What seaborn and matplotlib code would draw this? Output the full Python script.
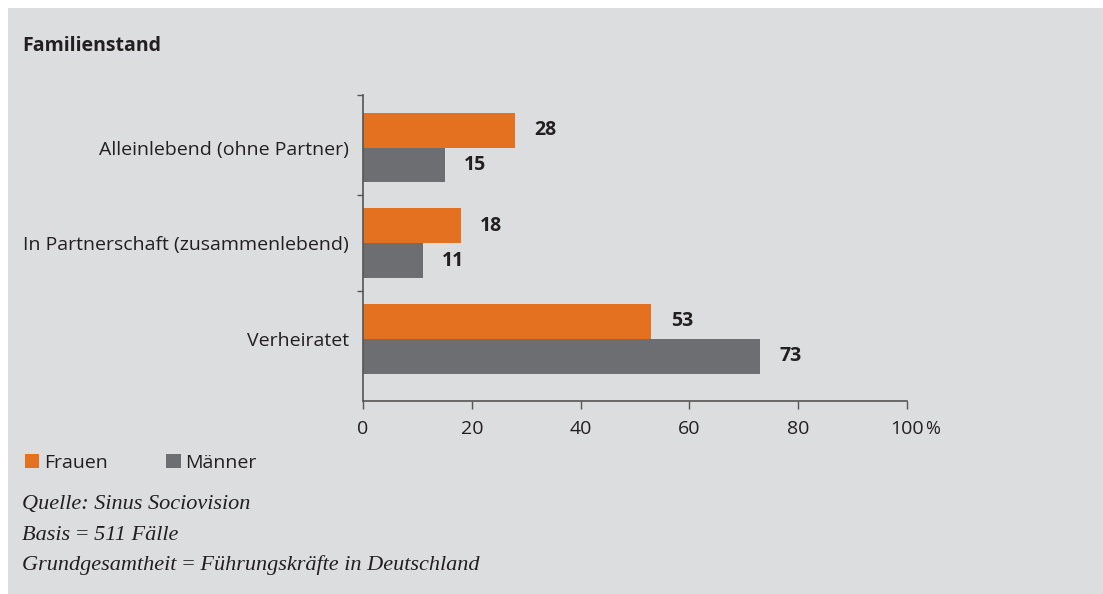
import matplotlib
matplotlib.use("Agg")
import matplotlib.pyplot as plt
import seaborn as sns
import pandas as pd

# data
categories = ['Alleinlebend (ohne Partner)', 'In Partnerschaft (zusammenlebend)', 'Verheiratet']
frauen = [28, 18, 53]
maenner = [15, 11, 73]
x_ticks = [0, 20, 40, 60, 80, 100]
footnotes = ['Quelle: Sinus Sociovision',
             'Basis\u2009=\u2009511 Fälle',
             'Grundgesamtheit\u2009=\u2009Führungskräfte in Deutschland']

df = pd.DataFrame({
    'kategorie': categories * 2,
    'wert': frauen + maenner,
    'geschlecht': ['Frauen'] * 3 + ['Männer'] * 3,
})

bg = '#dcdddf'
orange = '#e3711f'
grey = '#6d6e71'
dark = '#231f20'

sns.set_style('white', {'axes.facecolor': bg, 'figure.facecolor': 'white'})
plt.rcParams['font.family'] = ['Open Sans', 'DejaVu Sans']

fig = plt.figure(figsize=(11.03, 5.94), dpi=100)
# grey panel
fig.patches.append(plt.Rectangle((8 / 1103, 0), 1, 1 - 8 / 594, transform=fig.transFigure,
                                 facecolor=bg, edgecolor='none', zorder=-10))

ax = fig.add_axes([363 / 1103, 1 - 401 / 594, 544 / 1103, 306 / 594])
ax.set_facecolor(bg)
ax.set_zorder(1)

sns.barplot(data=df, y='kategorie', x='wert', hue='geschlecht', orient='h',
            palette={'Frauen': orange, 'Männer': grey}, width=0.73,
            saturation=1, linewidth=0, edgecolor='none', ax=ax, legend=True)

for cont in ax.containers:
    ax.bar_label(cont, padding=14, fontsize=14, fontweight='bold', color=dark)

ax.set_xlim(0, 100)
ax.set_ylim(2.65, -0.55)
ax.set_xlabel('')
ax.set_ylabel('')
ax.set_xticks(x_ticks)
ax.set_xticklabels([str(t) for t in x_ticks], fontsize=14, color=dark)
ax.tick_params(axis='x', length=6, width=1, color='#555555', pad=8, direction='out', bottom=True)
ax.set_yticks(range(len(categories)))
ax.set_yticklabels(categories, fontsize=14, color=dark)
ax.tick_params(axis='y', length=0, pad=10)
ax.set_yticks([-0.55, 0.5, 1.5], minor=True)
ax.tick_params(axis='y', which='minor', length=4, width=1, color='#555555', left=True)

for s in ['top', 'right']:
    ax.spines[s].set_visible(False)
for s in ['left', 'bottom']:
    ax.spines[s].set_color('#555555')
    ax.spines[s].set_linewidth(1.2)

ax.annotate('%', xy=(100, 0), xycoords=('data', 'axes fraction'), xytext=(13, -14),
            textcoords='offset points', ha='left', va='top', fontsize=13, color=dark)

# legend
handles, labels = ax.get_legend_handles_labels()
ax.legend_.remove()
for h in handles:
    h.set_edgecolor('none')
fig.legend(handles, labels, loc='center left', bbox_to_anchor=(7 / 1103, 1 - 463 / 594),
           ncol=2, frameon=False, fontsize=14, handlelength=0.75, handleheight=0.75,
           handletextpad=0.25, columnspacing=3.0, labelcolor=dark)

fig.text(22 / 1103, 1 - 46 / 594, 'Familienstand', fontsize=14, fontweight='bold',
         color=dark, va='center', ha='left')

for i, line in enumerate(footnotes):
    fig.text(22 / 1103, 1 - (505 + 30 * i) / 594, line, fontsize=16, style='italic',
             family='Liberation Serif', color=dark, va='center', ha='left')

fig.savefig('out.png', dpi=100, facecolor='white')
